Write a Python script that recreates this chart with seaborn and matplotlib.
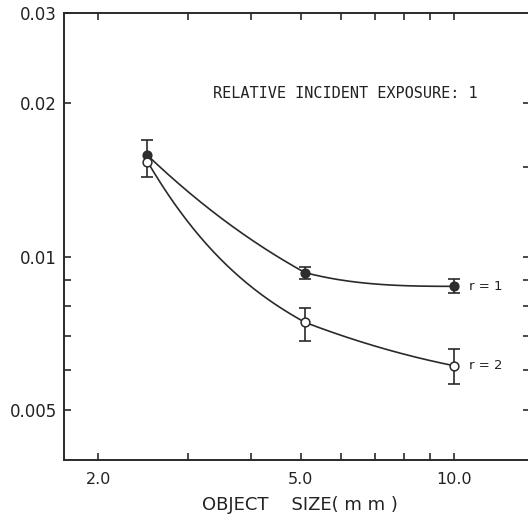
import numpy as np
import pandas as pd
import matplotlib
matplotlib.use("Agg")
import matplotlib.pyplot as plt
import seaborn as sns
from matplotlib.ticker import FixedLocator, NullFormatter, NullLocator

# ---- data ----
size_mm = [2.5, 5.1, 10.0]
r1_val = [0.0158, 0.00931, 0.00875]
r1_lo = [0.0143, 0.00906, 0.00848]
r1_hi = [0.01695, 0.00956, 0.00906]
r2_val = [0.01536, 0.00744, 0.00612]
r2_lo = [0.01536, 0.00684, 0.00564]
r2_hi = [0.01536, 0.00793, 0.00660]
series_labels = ["r = 1", "r = 2"]
x_major = [2.0, 5.0, 10.0]
x_major_labels = ["2.0", "5.0", "10.0"]
x_minor = [3, 4, 6, 7, 8, 9]
y_major = [0.005, 0.01, 0.02, 0.03]
y_major_labels = ["0.005", "0.01", "0.02", "0.03"]
y_minor = [0.006, 0.007, 0.008, 0.009]
y_right = [0.005, 0.006, 0.007, 0.008, 0.009, 0.01, 0.015, 0.02]

# hand-drawn curve style: log-log tangent slopes at segment ends
# (per segment: slope leaving left point, slope arriving at right point)
r1_tangents = [(-0.95, -0.55), (-0.26, 0.0)]
r2_tangents = [(-1.7, -0.55), (-0.38, -0.2)]

sns.set_style("white")
plt.rcParams['font.family'] = ['DejaVu Sans']

fig = plt.figure(figsize=(5.28, 5.22), dpi=100)
ax = fig.add_axes([64/528, 1-460/522, (529-64)/528, (460-13)/522])

ink = "#2a2a2a"

def smooth(xs, ys, tangents):
    lx, ly = np.log10(xs), np.log10(ys)
    gxs, gys = [], []
    for i, (m0, m1) in enumerate(tangents):
        x0, x1 = lx[i], lx[i+1]
        y0, y1 = ly[i], ly[i+1]
        h = x1 - x0
        t = np.linspace(0, 1, 120)
        h00 = 2*t**3 - 3*t**2 + 1
        h10 = t**3 - 2*t**2 + t
        h01 = -2*t**3 + 3*t**2
        h11 = t**3 - t**2
        gxs.append(x0 + t*h)
        gys.append(h00*y0 + h10*h*m0 + h01*y1 + h11*h*m1)
    gx = np.concatenate(gxs); gy = np.concatenate(gys)
    return pd.DataFrame({"x": 10**gx, "y": 10**gy})

for vals, tg in ((r1_val, r1_tangents), (r2_val, r2_tangents)):
    d = smooth(size_mm, vals, tg)
    sns.lineplot(data=d, x="x", y="y", ax=ax, color=ink, lw=1.2, sort=False)

v1 = np.array(r1_val); v2 = np.array(r2_val)
ax.errorbar(size_mm, v1, yerr=[v1-np.array(r1_lo), np.array(r1_hi)-v1],
            fmt="none", ecolor=ink, elinewidth=1.2, capsize=4.3, capthick=1.2)
m2 = np.array(r2_hi) > np.array(r2_lo)
ax.errorbar(np.array(size_mm)[m2], v2[m2],
            yerr=[(v2-np.array(r2_lo))[m2], (np.array(r2_hi)-v2)[m2]],
            fmt="none", ecolor=ink, elinewidth=1.2, capsize=4.3, capthick=1.2)

sns.scatterplot(x=size_mm, y=r1_val, ax=ax, color="#2e2e2e", edgecolor=ink,
                s=40, linewidth=1.0, zorder=5)
sns.scatterplot(x=size_mm, y=r2_val, ax=ax, color="white", edgecolor=ink,
                s=40, linewidth=1.1, zorder=6)

ax.set_xscale("log"); ax.set_yscale("log")
ax.set_xlim(1.714, 14.06)
ax.set_ylim(0.004, 0.03)

ax.xaxis.set_major_locator(FixedLocator(x_major))
ax.set_xticklabels(x_major_labels)
ax.xaxis.set_minor_locator(FixedLocator(x_minor))
ax.xaxis.set_minor_formatter(NullFormatter())
ax.yaxis.set_major_locator(FixedLocator(y_major))
ax.set_yticklabels(y_major_labels)
ax.yaxis.set_minor_locator(FixedLocator(y_minor))
ax.yaxis.set_minor_formatter(NullFormatter())

ax.tick_params(which="both", direction="in", length=5, width=1.2, color=ink,
               top=True, bottom=True, left=True, right=False, labelcolor="#222222")
ax.tick_params(axis="x", which="major", pad=9, labelsize=11.5)
ax.tick_params(axis="y", which="major", pad=5, labelsize=12)

sec = ax.secondary_yaxis("right")
sec.set_yscale("log")
sec.yaxis.set_major_locator(FixedLocator(y_right))
sec.yaxis.set_minor_locator(NullLocator())
sec.yaxis.set_major_formatter(NullFormatter())
sec.yaxis.set_minor_formatter(NullFormatter())
sec.tick_params(which="both", direction="in", length=4, width=1.2, color=ink)
sec.spines["right"].set_visible(False)

for s in ax.spines.values():
    s.set_color(ink); s.set_linewidth(1.4)
ax.spines["right"].set_visible(False)

ax.set_xlabel("")
ax.set_ylabel("")
fig.text(202/528, 1-505/522, "OBJECT    SIZE( m m )", fontsize=13,
         color="#222222", va="center", ha="left")

fig.text(213/528, 1-93/522, "RELATIVE INCIDENT EXPOSURE: 1", fontsize=11,
         family="DejaVu Sans Mono", color="#222222", va="center", ha="left")
ax.annotate(series_labels[0], (size_mm[2], r1_val[2]), xytext=(11, 0),
            textcoords="offset points", va="center", fontsize=9.5, color="#222222")
ax.annotate(series_labels[1], (size_mm[2], r2_val[2]), xytext=(11, 0),
            textcoords="offset points", va="center", fontsize=9.5, color="#222222")

fig.savefig("out.png", dpi=100)
